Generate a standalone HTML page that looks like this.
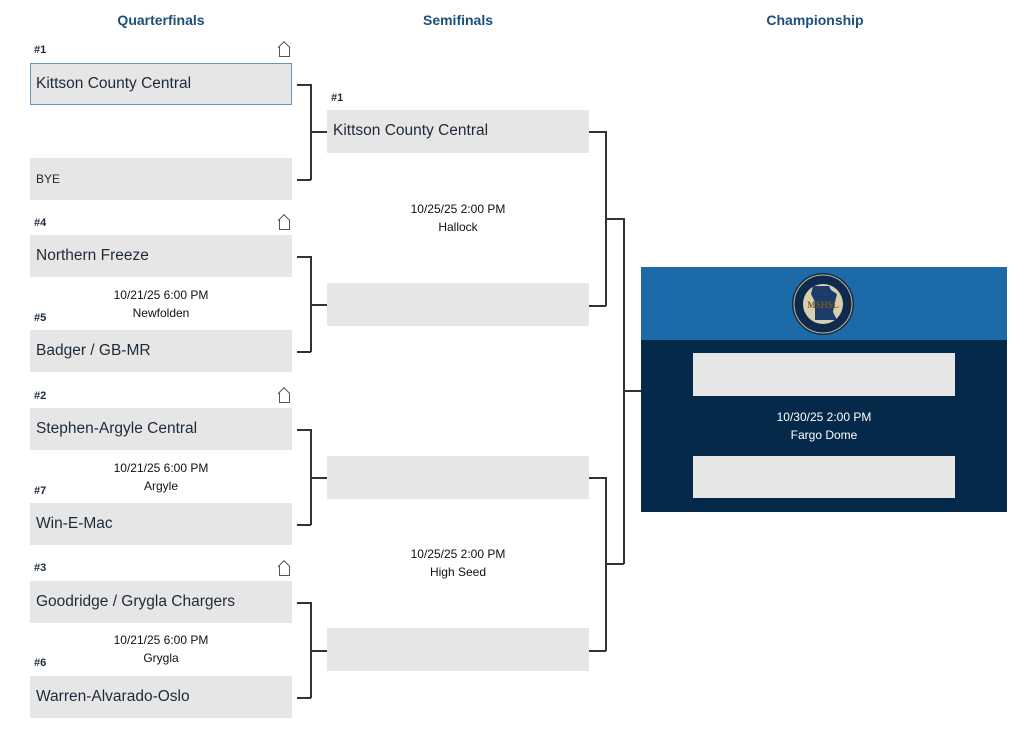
<!DOCTYPE html>
<html><head><style>
body{margin:0;width:1024px;height:741px;background:#fff;position:relative;font-family:"Liberation Sans",sans-serif;overflow:hidden}
.a{position:absolute}
.h{font-weight:bold;color:#1c4f7a;font-size:14px;transform:translateX(-50%);top:12px;white-space:nowrap}
.b{position:absolute;background:#e6e6e6;height:42px;width:262px;box-sizing:border-box;color:#1e2a38;font-size:15.5px;line-height:42px;padding-left:6px}
.s{position:absolute;font-size:11px;font-weight:bold;color:#1e2a38}
.t{position:absolute;font-size:12px;color:#111;text-align:center;width:200px;line-height:18px}
.l{position:absolute;background:#333}
.home{position:absolute;width:9px;height:9px;border:1.3px solid #555;border-top:none}
.home:before{content:"";position:absolute;left:-1px;top:-6px;width:8px;height:8px;border-left:1.3px solid #555;border-top:1.3px solid #555;transform:rotate(45deg);transform-origin:0 0;left:4px;top:-6px}
</style></head><body>
<div class="a h" style="left:161px">Quarterfinals</div>
<div class="a h" style="left:458px">Semifinals</div>
<div class="a h" style="left:815px">Championship</div>

<div class="s" style="left:34px;top:44px">#1</div>
<div class="b" style="left:30px;top:63px;border:1.5px solid #6d95b3;padding-left:5px;line-height:40px">Kittson County Central</div>
<div class="b" style="left:30px;top:158px;font-size:12px">BYE</div>
<div class="s" style="left:34px;top:217px">#4</div>
<div class="b" style="left:30px;top:235px">Northern Freeze</div>
<div class="t" style="left:61px;top:286px">10/21/25 6:00 PM<br>Newfolden</div>
<div class="s" style="left:34px;top:312px">#5</div>
<div class="b" style="left:30px;top:330px">Badger / GB-MR</div>
<div class="s" style="left:34px;top:390px">#2</div>
<div class="b" style="left:30px;top:408px">Stephen-Argyle Central</div>
<div class="t" style="left:61px;top:459px">10/21/25 6:00 PM<br>Argyle</div>
<div class="s" style="left:34px;top:485px">#7</div>
<div class="b" style="left:30px;top:503px">Win-E-Mac</div>
<div class="s" style="left:34px;top:562px">#3</div>
<div class="b" style="left:30px;top:581px">Goodridge / Grygla Chargers</div>
<div class="t" style="left:61px;top:631px">10/21/25 6:00 PM<br>Grygla</div>
<div class="s" style="left:34px;top:657px">#6</div>
<div class="b" style="left:30px;top:676px">Warren-Alvarado-Oslo</div>

<div class="home" style="left:279px;top:47px"></div>
<div class="home" style="left:279px;top:220px"></div>
<div class="home" style="left:279px;top:393px"></div>
<div class="home" style="left:279px;top:566px"></div>

<!-- QF brackets -->
<div class="l" style="left:297px;top:84px;width:14px;height:1.5px"></div>
<div class="l" style="left:297px;top:179px;width:14px;height:1.5px"></div>
<div class="l" style="left:310px;top:84px;width:1.5px;height:96px"></div>
<div class="l" style="left:310px;top:131px;width:17px;height:1.5px"></div>

<div class="l" style="left:297px;top:256px;width:14px;height:1.5px"></div>
<div class="l" style="left:297px;top:351px;width:14px;height:1.5px"></div>
<div class="l" style="left:310px;top:256px;width:1.5px;height:96px"></div>
<div class="l" style="left:310px;top:304px;width:17px;height:1.5px"></div>

<div class="l" style="left:297px;top:429px;width:14px;height:1.5px"></div>
<div class="l" style="left:297px;top:524px;width:14px;height:1.5px"></div>
<div class="l" style="left:310px;top:429px;width:1.5px;height:96px"></div>
<div class="l" style="left:310px;top:477px;width:17px;height:1.5px"></div>

<div class="l" style="left:297px;top:602px;width:14px;height:1.5px"></div>
<div class="l" style="left:297px;top:697px;width:14px;height:1.5px"></div>
<div class="l" style="left:310px;top:602px;width:1.5px;height:96px"></div>
<div class="l" style="left:310px;top:650px;width:17px;height:1.5px"></div>

<!-- SF -->
<div class="s" style="left:331px;top:92px">#1</div>
<div class="b" style="left:327px;top:110px;height:43px">Kittson County Central</div>
<div class="t" style="left:358px;top:200px">10/25/25 2:00 PM<br>Hallock</div>
<div class="b" style="left:327px;top:283px;height:43px"></div>
<div class="b" style="left:327px;top:456px;height:43px"></div>
<div class="t" style="left:358px;top:545px">10/25/25 2:00 PM<br>High Seed</div>
<div class="b" style="left:327px;top:628px;height:43px"></div>

<div class="l" style="left:589px;top:131px;width:17px;height:1.5px"></div>
<div class="l" style="left:589px;top:305px;width:17px;height:1.5px"></div>
<div class="l" style="left:605px;top:131px;width:1.5px;height:175px"></div>
<div class="l" style="left:605px;top:218px;width:19px;height:1.5px"></div>
<div class="l" style="left:589px;top:477px;width:17px;height:1.5px"></div>
<div class="l" style="left:589px;top:650px;width:17px;height:1.5px"></div>
<div class="l" style="left:605px;top:477px;width:1.5px;height:174px"></div>
<div class="l" style="left:605px;top:563px;width:19px;height:1.5px"></div>
<div class="l" style="left:623px;top:218px;width:1.5px;height:346px"></div>
<div class="l" style="left:623px;top:390px;width:18px;height:1.5px"></div>

<!-- Championship -->
<div class="a" style="left:641px;top:267px;width:366px;height:73px;background:#1c6aa8"></div>
<div class="a" style="left:641px;top:340px;width:366px;height:172px;background:#04294a"></div>
<svg class="a" style="left:791px;top:272px" width="64" height="64">
<circle cx="32" cy="32" r="31" fill="#0f2a4f"/>
<circle cx="32" cy="32" r="29" fill="none" stroke="#c9b98a" stroke-width="1"/>
<circle cx="32" cy="32" r="20" fill="#d8cfb0"/>
<path d="M22 14 L38 14 L40 18 L46 22 L44 30 L42 40 L46 48 L24 48 L24 30 L20 22 Z" fill="#1d3c6b"/>
<text x="32" y="36" font-size="9" font-family="Liberation Serif" fill="#7a5a20" text-anchor="middle" font-weight="bold">MSHSL</text>
</svg>
<div class="b" style="left:693px;top:353px;height:43px;width:262px"></div>
<div class="t" style="left:724px;top:408px;color:#fff">10/30/25 2:00 PM<br>Fargo Dome</div>
<div class="b" style="left:693px;top:456px;height:42px;width:262px"></div>
</body></html>
